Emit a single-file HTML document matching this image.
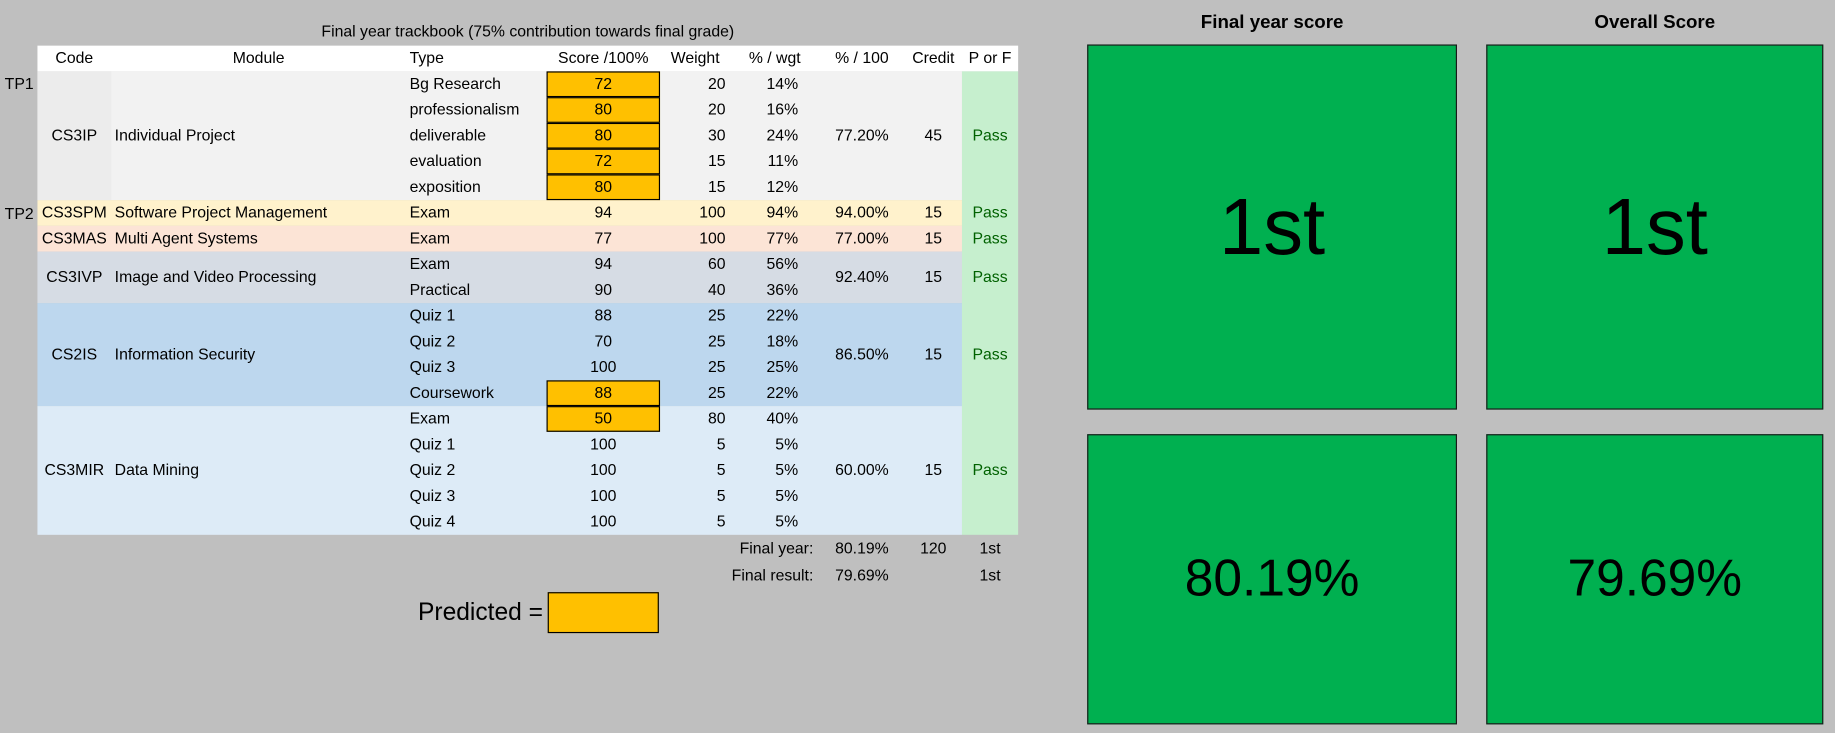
<!DOCTYPE html>
<html><head><meta charset="utf-8"><style>
html,body{margin:0;padding:0;width:1835px;height:733px;overflow:hidden;background:#bfbfbf;}
#wrap{position:absolute;left:0;top:0;width:1568px;height:626px;transform:scale(1.17028);transform-origin:0 0;font-family:"Liberation Sans",sans-serif;font-size:13.5px;color:#000;}
.c{position:absolute;box-sizing:border-box;white-space:nowrap;line-height:22px;height:22px;}
.bg{position:absolute;}
.box{position:absolute;background:#00b050;border:1px solid #1a1a1a;box-sizing:border-box;display:flex;align-items:center;justify-content:center;}
</style></head><body>
<div id="wrap">
<div class="c" style="left:32px;top:16px;width:838px;text-align:center;">Final year trackbook (75% contribution towards final grade)</div>
<div class="bg" style="left:32px;top:39px;width:838px;height:22px;background:#fff;"></div>
<div id="grid"></div>
<div class="c" style="left:300px;top:512px;width:164px;text-align:right;font-size:21px;line-height:24px;height:24px;">Predicted =</div>
<div class="bg" style="left:468px;top:506px;width:95px;height:35px;background:#ffc000;border:1px solid #000;box-sizing:border-box;"></div>
<div class="c" style="left:929px;top:9px;width:316px;text-align:center;font-weight:bold;font-size:16px;">Final year score</div>
<div class="c" style="left:1270px;top:9px;width:288px;text-align:center;font-weight:bold;font-size:16px;">Overall Score</div>
<div class="box" style="left:929px;top:38px;width:316px;height:312px;font-size:68px;">1st</div>
<div class="box" style="left:1270px;top:38px;width:288px;height:312px;font-size:68px;">1st</div>
<div class="box" style="left:929px;top:371px;width:316px;height:248px;font-size:44px;">80.19%</div>
<div class="box" style="left:1270px;top:371px;width:288px;height:248px;font-size:44px;">79.69%</div>
</div>
<script>
const headers=["Code","Module","Type","Score /100%","Weight","% / wgt","% / 100","Credit","P or F"];
const types=["Bg Research","professionalism","deliverable","evaluation","exposition","Exam","Exam","Exam","Practical","Quiz 1","Quiz 2","Quiz 3","Coursework","Exam","Quiz 1","Quiz 2","Quiz 3","Quiz 4"];
const scores=[72,80,80,72,80,94,77,94,90,88,70,100,88,50,100,100,100,100];
const weights=[20,20,30,15,15,100,100,60,40,25,25,25,25,80,5,5,5,5];
const pcts=["14%","16%","24%","11%","12%","94%","77%","56%","36%","22%","18%","25%","22%","40%","5%","5%","5%","5%"];
const inputRows=[0,1,2,3,4,12,13];
const codes=["CS3IP","CS3SPM","CS3MAS","CS3IVP","CS2IS","CS3MIR"];
const modules=["Individual Project","Software Project Management","Multi Agent Systems","Image and Video Processing","Information Security","Data Mining"];
const starts=[0,5,6,7,9,13];
const counts=[5,1,1,2,4,5];
const modPct=["77.20%","94.00%","77.00%","92.40%","86.50%","60.00%"];
const credits=[45,15,15,15,15,15];
const colors=["#f2f2f2","#fff2cc","#fce4d6","#d6dce4","#bdd7ee","#ddebf7"];
const colX=[32,95,347,467,564,624,700,773,822,870];
const top0=61,rh=22;
const g=document.getElementById('grid');
function cell(x,y,w,h,txt,align,name){
 const d=document.createElement('div');
 d.className='c';
 d.style.cssText='left:'+x+'px;top:'+y+'px;width:'+w+'px;height:'+h+'px;line-height:'+h+'px;text-align:'+align+';';
 d.textContent=txt;
 
 
 g.appendChild(d);return d;
}
codes.forEach((c,i)=>{
 const b=document.createElement('div');
 b.className='bg';
 b.style.cssText='left:32px;top:'+(top0+starts[i]*rh)+'px;width:790px;height:'+(counts[i]*rh)+'px;background:'+colors[i]+';';
 
 
 g.appendChild(b);
});
const ipc=document.createElement('div');
ipc.className='bg';
ipc.style.cssText='left:32px;top:'+top0+'px;width:63px;height:'+(5*rh)+'px;background:#ececec;';


g.appendChild(ipc);
const pf=document.createElement('div');
pf.className='bg';
pf.style.cssText='left:822px;top:'+top0+'px;width:48px;height:'+(18*rh)+'px;background:#c6efce;';


g.appendChild(pf);
headers.forEach((h,i)=>{
 const d=cell(i==2?350:colX[i],39,colX[i+1]-colX[i],22,h,i==2?'left':'center','header-'+h.toLowerCase().replace(/[^a-z]+/g,'-'));
});
types.forEach((t,r)=>{
 const y=top0+r*rh;
 cell(350,y,115,rh,t,'left','type-cell');
 const inp=inputRows.includes(r);
 const s=cell(467,y,97,rh,String(scores[r]),'center','score-cell');
 if(inp){s.style.background='#ffc000';s.style.border='1px solid #000';s.style.lineHeight='20px';}
 cell(564,y,56,rh,String(weights[r]),'right','weight-cell');
 cell(624,y,58,rh,pcts[r],'right','weighted-pct-cell');
});
codes.forEach((c,i)=>{
 const y=top0+starts[i]*rh, h=counts[i]*rh;
 cell(32,y,63,h,c,'center','module-code');
 cell(98,y,249,h,modules[i],'left','module-name');
 cell(700,y,73,h,modPct[i],'center','module-percent');
 cell(773,y,49,h,String(credits[i]),'center','module-credit');
 const p=cell(822,y,48,h,'Pass','center','pass-fail');
 p.style.color='#006100';
});
cell(4,61,28,22,'TP1','left','term-tp1');
cell(4,172,28,22,'TP2','left','term-tp2');
const fy=top0+18*rh+1;
cell(560,fy,135,22,'Final year:','right','final-year-label');
cell(700,fy,73,22,'80.19%','center','final-year-percent');
cell(773,fy,49,22,'120','center','final-year-credit');
cell(822,fy,48,22,'1st','center','final-year-class');
cell(560,fy+23,135,22,'Final result:','right','final-result-label');
cell(700,fy+23,73,22,'79.69%','center','final-result-percent');
cell(822,fy+23,48,22,'1st','center','final-result-class');
</script>
</body></html>
